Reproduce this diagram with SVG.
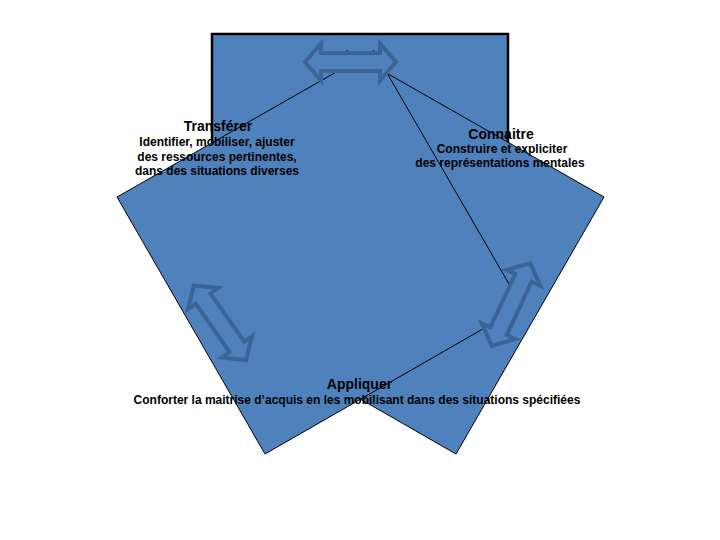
<svg xmlns="http://www.w3.org/2000/svg" width="720" height="540" viewBox="0 0 720 540">
<style>
.sq{fill:#4f81bd;stroke:#000;stroke-width:1}
.top{fill:#4f81bd;stroke:#000;stroke-width:2.5}
.arr{fill:#4f81bd;stroke:#3b6597;stroke-width:4;stroke-linejoin:miter}
text{font-family:"Liberation Sans",Arial,sans-serif;font-weight:bold;fill:#000;text-anchor:middle}
.h{font-size:14px}
.b{font-size:12px}
</style>
<defs>
<path id="dblarrow" d="M -45.5 0 L -29.5 -18.5 L -29.5 -9 L 29.5 -9 L 29.5 -18.5 L 45.5 0 L 29.5 18.5 L 29.5 9 L -29.5 9 L -29.5 18.5 Z"/>
</defs>
<g id="background-top">
<rect class="top" x="212" y="34" width="296" height="296"/>
</g>
<g id="right-square">
<polygon class="sq" points="604,197 456,454 199,306.5 347,50.5"/>
</g>
<g id="left-square">
<polygon class="sq" points="117,197 374,50.5 522,306.5 265,454"/>
</g>
<g id="connectors">
<use href="#dblarrow" class="arr" transform="translate(350.5,62)"/>
<use href="#dblarrow" class="arr" transform="translate(220,322.7) rotate(55)"/>
<use href="#dblarrow" class="arr" transform="translate(511,304.5) rotate(115)"/>
</g>
<g id="transferer">
<text class="h" x="218" y="131">Transférer</text>
<text class="b" x="217" y="146">Identifier, mobiliser, ajuster</text>
<text class="b" x="217" y="160.5">des ressources pertinentes,</text>
<text class="b" x="217" y="175">dans des situations diverses</text>
</g>
<g id="connaitre">
<text class="h" x="501" y="139">Connaitre</text>
<text class="b" x="502" y="153">Construire et expliciter</text>
<text class="b" x="500" y="167">des représentations mentales</text>
</g>
<g id="appliquer">
<text class="h" x="359.5" y="389">Appliquer</text>
<text class="b" x="357" y="404">Conforter la maitrise d’acquis en les mobilisant dans des situations spécifiées</text>
</g>
</svg>
